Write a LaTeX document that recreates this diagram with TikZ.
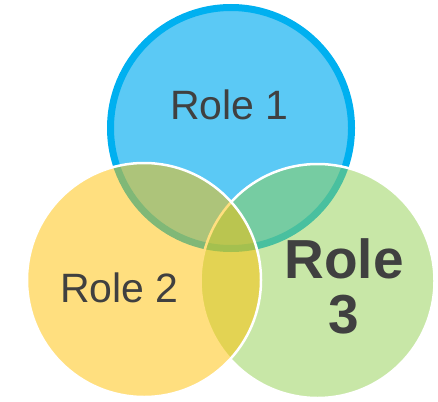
\documentclass[tikz,border=0pt]{standalone}
\usepackage{fontspec}
\setmainfont{Liberation Sans}
\definecolor{roleblue}{HTML}{00B0F0}
\definecolor{bluefill}{HTML}{5BC9F5}
\definecolor{rolegreen}{HTML}{92D050}
\definecolor{roleyellow}{HTML}{FFC000}
\definecolor{labelgray}{HTML}{404040}

\begin{document}
\begin{tikzpicture}[x=1pt,y=-1pt,
        ring/.style={draw=white,line width=2.5pt,fill opacity=0.5},
        rolelabel/.style={text=labelgray,inner sep=0pt,anchor=base}]
        \useasboundingbox (0,0) rectangle (438,401);
        % circles, back to front
        \filldraw[fill=bluefill,draw=roleblue,line width=7pt] (231,128) circle (120.5pt);
        \filldraw[ring,fill=rolegreen] (317.5,281) circle (117pt);
        \filldraw[ring,fill=roleyellow] (144,280) circle (117pt);
        % labels
        \node[rolelabel,font=\fontsize{41}{41}\selectfont] (role1) at (229.5,119) {Role 1};
        \node[rolelabel,font=\fontsize{41}{41}\selectfont] (role2) at (119.5,302) {Role 2};
        \node[rolelabel,align=center,font=\fontsize{55}{55}\selectfont\bfseries] (role3) at (344,333) {Role\\3};
\end{tikzpicture}
\end{document}
